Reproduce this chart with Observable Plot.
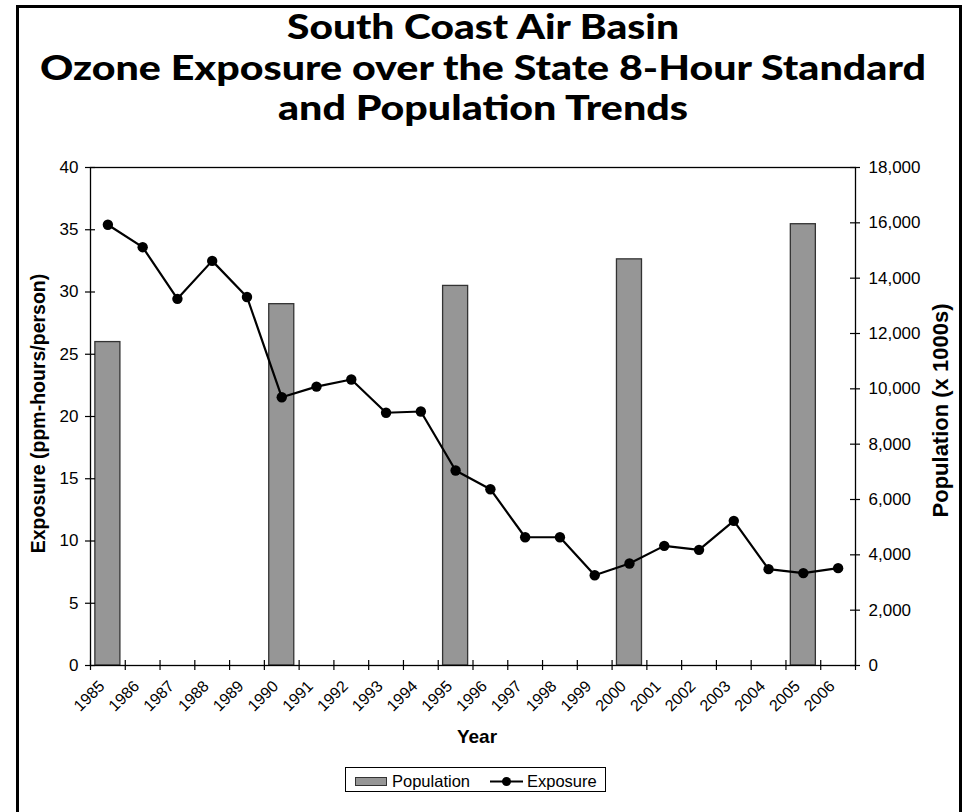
<!DOCTYPE html>
<html>
<head>
<meta charset="utf-8">
<script src="https://cdn.jsdelivr.net/npm/d3@7"></script>
<script src="https://cdn.jsdelivr.net/npm/@observablehq/plot@0.6"></script>
<style>
  html, body { margin: 0; padding: 0; background: #fff; }
  #wrap { position: relative; width: 965px; height: 812px; overflow: hidden; font-family: "Liberation Sans", Arial, sans-serif; }
  #frame { position: absolute; left: 16px; top: 5px; width: 946px; height: 900px; border: 3px solid #000; box-sizing: border-box; }
  #title { position: absolute; left: 0; top: 0; }
  #chart { position: absolute; left: 0; top: 150px; }
  #legend { position: absolute; left: 0; top: 750px; }
</style>
</head>
<body>
<div id="wrap">
  <div id="frame"></div>
  <svg id="title" width="965" height="150" xmlns="http://www.w3.org/2000/svg"
       font-family="Lato, 'DejaVu Sans', sans-serif" font-weight="900" font-size="34" fill="#000">
    <text x="483" y="39" text-anchor="middle" textLength="392" lengthAdjust="spacingAndGlyphs">South Coast Air Basin</text>
    <text x="483" y="80" text-anchor="middle" textLength="886" lengthAdjust="spacingAndGlyphs">Ozone Exposure over the State 8-Hour Standard</text>
    <text x="483" y="120" text-anchor="middle" textLength="410" lengthAdjust="spacingAndGlyphs">and Population Trends</text>
  </svg>
  <div id="chart"></div>
  <svg id="legend" width="965" height="62" xmlns="http://www.w3.org/2000/svg" font-family="'Liberation Sans', Arial, sans-serif" font-size="16.5">
    <rect x="345.5" y="17.5" width="260" height="24" fill="#fff" stroke="#000" stroke-width="1"></rect>
    <rect x="355.5" y="27.5" width="31" height="8" fill="#969696" stroke="#333" stroke-width="1"></rect>
    <text x="392" y="37" fill="#000">Population</text>
    <line x1="490" x2="523" y1="31.5" y2="31.5" stroke="#000" stroke-width="2"></line>
    <circle cx="506.5" cy="31.5" r="4.5" fill="#000"></circle>
    <text x="527" y="37" fill="#000">Exposure</text>
  </svg>
</div>
<script>
// ---- data ----
const years = [1985, 1986, 1987, 1988, 1989, 1990, 1991, 1992, 1993, 1994, 1995,
               1996, 1997, 1998, 1999, 2000, 2001, 2002, 2003, 2004, 2005, 2006];
const exposure = [35.4, 33.6, 29.45, 32.5, 29.6, 21.55, 22.4, 22.97, 20.3, 20.4, 15.66,
                  14.16, 10.3, 10.3, 7.25, 8.19, 9.61, 9.29, 11.62, 7.74, 7.42, 7.82];
const popYears = [1985, 1990, 1995, 2000, 2005];
const population = [11690, 13060, 13720, 14680, 15950];   // thousands
const leftTicks = [0, 5, 10, 15, 20, 25, 30, 35, 40];
const rightTicks = [0, 2000, 4000, 6000, 8000, 10000, 12000, 14000, 16000, 18000];
const leftTitle = "Exposure (ppm-hours/person)";
const rightTitle = "Population (x 1000s)";
const xTitle = "Year";

// population axis maps 0..18000 onto exposure axis 0..40
const popToY = p => p * 40 / 18000;
const expData = years.map((y, i) => ({year: y, v: exposure[i]}));
const popData = popYears.map((y, i) => ({year: y, pop: population[i]}));
const boundaries = [...years, years[years.length - 1] + 1];

const chart = Plot.plot({
  width: 965,
  height: 600,
  marginTop: 17,
  marginBottom: 85,
  marginLeft: 90,
  marginRight: 110,
  style: {fontFamily: "'Liberation Sans', Arial, sans-serif", background: "transparent", color: "#000"},
  x: {type: "linear", domain: [years[0], years[years.length - 1] + 1]},
  y: {domain: [0, 40]},
  marks: [
    Plot.rectY(popData, {x1: d => d.year + 0.14, x2: d => d.year + 0.86, y1: 0, y2: d => popToY(d.pop),
      fill: "#969696", stroke: "#333", strokeWidth: 1.3}),
    Plot.frame({stroke: "#000", strokeWidth: 1.3}),
    Plot.line(expData, {x: d => d.year + 0.5, y: "v", stroke: "#000", strokeWidth: 2.2}),
    Plot.dot(expData, {x: d => d.year + 0.5, y: "v", r: 5.2, fill: "#000", stroke: "none"}),
    // crossing tick marks
    Plot.ruleX(boundaries, {x: d => d, y1: 0, y2: 0, insetTop: -5, insetBottom: -5, stroke: "#000", strokeWidth: 1.2}),
    Plot.ruleY(leftTicks, {y: d => d, x1: years[0], x2: years[0], insetLeft: -5, insetRight: -5, stroke: "#000", strokeWidth: 1.2}),
    Plot.ruleY(rightTicks.map(popToY), {y: d => d, x1: boundaries[boundaries.length - 1], x2: boundaries[boundaries.length - 1], insetLeft: -5, insetRight: -5, stroke: "#000", strokeWidth: 1.2}),
    Plot.axisY({anchor: "left", ticks: leftTicks, tickSize: 0, tickPadding: 12, fontSize: 17, label: null}),
    Plot.axisY({anchor: "right", ticks: rightTicks.map(popToY), tickFormat: v => d3.format(",")(Math.round(v * 18000 / 40)),
      tickSize: 0, tickPadding: 13, fontSize: 17, label: null}),
    Plot.axisX({ticks: years.map(y => y + 0.5), tickFormat: v => String(Math.floor(v)), tickRotate: -45,
      tickSize: 0, tickPadding: 18, dx: -6, fontSize: 16, label: null}),
    Plot.text([leftTitle], {frameAnchor: "left", textAnchor: "middle", rotate: -90, dx: -52, dy: -3, fontWeight: "bold", fontSize: 19.5}),
    Plot.text([rightTitle], {frameAnchor: "right", textAnchor: "middle", rotate: -90, dx: 85, dy: -6, fontWeight: "bold", fontSize: 22}),
    Plot.text([xTitle], {frameAnchor: "bottom", dy: 77, dx: 4, fontWeight: "bold", fontSize: 19})
  ]
});
document.getElementById("chart").appendChild(chart);
</script>
</body>
</html>
